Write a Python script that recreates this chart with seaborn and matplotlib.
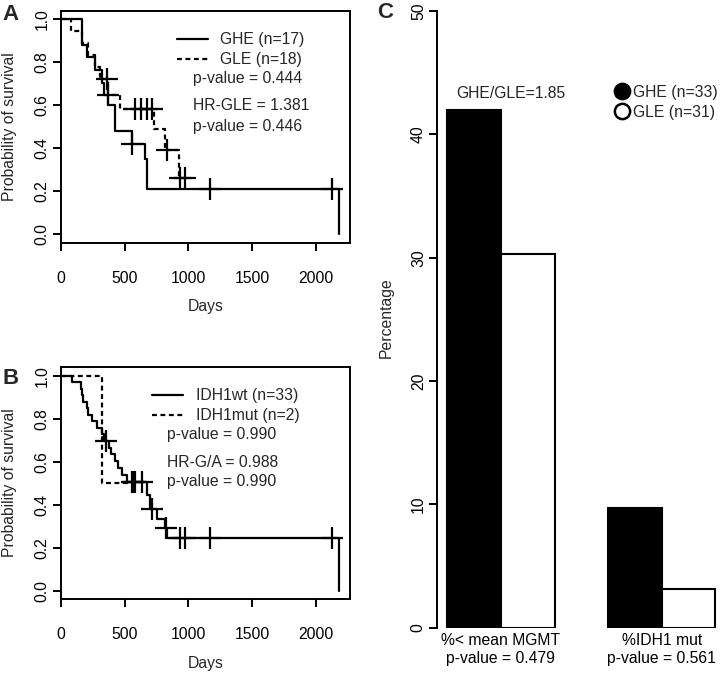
import matplotlib
matplotlib.use("Agg")
import matplotlib.pyplot as plt
from matplotlib.lines import Line2D
import pandas as pd
import seaborn as sns

# ---------------- data ----------------
# Panel A : Kaplan-Meier GHE vs GLE
ghe_days = [0, 162, 206, 267, 319, 340, 366, 423, 554, 659, 672, 2180]
ghe_surv = [1.0, 0.882, 0.824, 0.765, 0.706, 0.647, 0.600, 0.480, 0.420, 0.348, 0.210, 0.0]
ghe_cens_days = [365, 554, 1168, 2123]
ghe_cens_surv = [0.647, 0.420, 0.210, 0.210]
gle_days = [0, 78, 165, 210, 270, 305, 372, 460, 728, 815, 925, 973]
gle_surv = [1.0, 0.944, 0.889, 0.833, 0.778, 0.722, 0.650, 0.585, 0.490, 0.390, 0.260, 0.260]
gle_cens_days = [360, 584, 627, 678, 717, 829, 933, 973]
gle_cens_surv = [0.722, 0.585, 0.585, 0.585, 0.585, 0.390, 0.260, 0.260]
legend_a = ["GHE (n=17)", "GLE (n=18)"]
notes_a = ["p-value = 0.444", "HR-GLE = 1.381", "p-value = 0.446"]

# Panel B : Kaplan-Meier IDH1wt vs IDH1mut
wt_days = [0, 84, 160, 165, 170, 206, 215, 241, 280, 319, 335, 380, 395, 420, 450,
           480, 520, 672, 695, 750, 815, 829, 2180]
wt_surv = [1.0, 0.970, 0.939, 0.909, 0.879, 0.848, 0.818, 0.788, 0.758, 0.727, 0.697,
           0.665, 0.634, 0.602, 0.570, 0.539, 0.507, 0.443, 0.381, 0.335, 0.293, 0.246, 0.0]
wt_cens_days = [353, 554, 567, 580, 633, 711, 821, 933, 973, 1168, 2123]
wt_cens_surv = [0.697, 0.507, 0.507, 0.507, 0.507, 0.381, 0.293, 0.246, 0.246, 0.246, 0.246]
mut_days = [0, 325, 560]
mut_surv = [1.0, 0.5, 0.5]
legend_b = ["IDH1wt (n=33)", "IDH1mut (n=2)"]
notes_b = ["p-value = 0.990", "HR-G/A = 0.988", "p-value = 0.990"]

# Panel C : bar chart
measures = ["%< mean MGMT\np-value = 0.479", "%IDH1 mut\np-value = 0.561"]
ghe_pct = [42.0, 9.7]
gle_pct = [30.3, 3.1]
groups = ["GHE (n=33)", "GLE (n=31)"]
ratio_label = "GHE/GLE=1.85"

x_ticks = [0, 500, 1000, 1500, 2000]
y_ticks = [0.0, 0.2, 0.4, 0.6, 0.8, 1.0]
c_ticks = [0, 10, 20, 30, 40, 50]

# ---------------- style ----------------
sns.set_theme(style="ticks")
FS = 11.3
plt.rcParams["font.family"] = ["Liberation Sans", "DejaVu Sans"]
plt.rcParams["font.size"] = FS
plt.rcParams["axes.linewidth"] = 1.4
plt.rcParams["axes.edgecolor"] = "black"

W, H = 725, 675
fig = plt.figure(figsize=(W / 100, H / 100), dpi=100)
fig.patch.set_facecolor("white")


def fx(px):
    return px / W


def fy(py):
    return 1 - py / H


def rect(left, top, right, bottom):
    return [fx(left), fy(bottom), (right - left) / W, (bottom - top) / H]


LW = 1.6
DASH = (0, (2.2, 1.6))


def km_panel(ax, d1, s1, c1d, c1s, d2, s2, c2d, c2s):
    sns.lineplot(x=d1, y=s1, ax=ax, drawstyle="steps-post", estimator=None, sort=False,
                 color="black", linewidth=LW)
    sns.lineplot(x=d2, y=s2, ax=ax, drawstyle="steps-post", estimator=None, sort=False,
                 color="black", linewidth=LW, linestyle=DASH)
    for cd, cs in ((c1d, c1s), (c2d, c2s)):
        if cd:
            ax.scatter(cd, cs, marker="+", s=250, color="black", linewidths=1.6, zorder=3)
    ax.set_xlim(0, 2267)
    ax.set_ylim(-0.04, 1.04)
    ax.set_xticks(x_ticks)
    ax.set_xticklabels([str(t) for t in x_ticks])
    ax.set_yticks(y_ticks)
    ax.set_yticklabels([f"{t:.1f}" for t in y_ticks], rotation=90, va="center")
    ax.tick_params(axis="x", direction="out", length=5.8, width=1.4, pad=14.5,
                   labelsize=FS, colors="black")
    ax.tick_params(axis="y", direction="out", length=5.8, width=1.4, pad=2.5,
                   labelsize=FS, colors="black")
    ax.set_xlabel("")
    ax.set_ylabel("")
    for sp in ax.spines.values():
        sp.set_visible(True)
        sp.set_linewidth(1.4)
    handles = [Line2D([], [], color="black", lw=LW),
               Line2D([], [], color="black", lw=LW, linestyle=DASH)]
    return handles


# Panel A
axa = fig.add_axes(rect(61, 10.7, 350, 242.9))
ha_ = km_panel(axa, ghe_days, ghe_surv, ghe_cens_days, ghe_cens_surv,
               gle_days, gle_surv, gle_cens_days, gle_cens_surv)
axa.legend(ha_, legend_a, loc="center left", bbox_to_anchor=(fx(177), fy(49.7)),
           bbox_transform=fig.transFigure, frameon=False, borderpad=0, borderaxespad=0,
           handlelength=2.0, handletextpad=0.76, labelspacing=0.31, fontsize=FS)
for txt, py in zip(notes_a, [79, 106, 126]):
    fig.text(fx(192.7), fy(py), txt, ha="left", va="center", fontsize=FS)
fig.text(fx(10), fy(126.8), "Probability of survival", rotation=90, ha="center",
         va="center", fontsize=FS)
fig.text(fx(205.5), fy(307), "Days", ha="center", va="center", fontsize=FS)
fig.text(fx(2), fy(19.5), "A", fontsize=16, fontweight="bold", ha="left", va="baseline")

# Panel B
axb = fig.add_axes(rect(61, 367.1, 350, 599.3))
hb_ = km_panel(axb, wt_days, wt_surv, wt_cens_days, wt_cens_surv,
               mut_days, mut_surv, [], [])
axb.legend(hb_, legend_b, loc="center left", bbox_to_anchor=(fx(152), fy(405.8)),
           bbox_transform=fig.transFigure, frameon=False, borderpad=0, borderaxespad=0,
           handlelength=2.0, handletextpad=0.8, labelspacing=0.31, fontsize=FS)
for txt, py in zip(notes_b, [435, 462.7, 481.7]):
    fig.text(fx(166.7), fy(py), txt, ha="left", va="center", fontsize=FS)
fig.text(fx(10), fy(483), "Probability of survival", rotation=90, ha="center",
         va="center", fontsize=FS)
fig.text(fx(205.5), fy(663.3), "Days", ha="center", va="center", fontsize=FS)
fig.text(fx(2), fy(384), "B", fontsize=16, fontweight="bold", ha="left", va="baseline")

# Panel C
axc = fig.add_axes(rect(436.7, 11, 725, 627.7))
dfc = pd.DataFrame({
    "measure": measures * 2,
    "pct": ghe_pct + gle_pct,
    "group": [groups[0]] * len(measures) + [groups[1]] * len(measures),
})
sns.barplot(data=dfc, x="measure", y="pct", hue="group", order=measures,
            hue_order=groups, palette=["black", "white"], saturation=1,
            edgecolor="black", linewidth=1.5, width=2 / 3, gap=0, errorbar=None,
            legend=False, ax=axc)
axc.set_xlim(-0.4, -0.4 + (725 - 436.7) / 160.7)
axc.set_ylim(0, 50)
axc.set_yticks(c_ticks)
axc.set_yticklabels([str(t) for t in c_ticks], rotation=90, va="center")
axc.tick_params(axis="y", direction="out", length=5.8, width=1.4, pad=2,
                labelsize=FS, colors="black")
axc.tick_params(axis="x", length=0, pad=4, labelsize=FS, colors="black")
for lab in axc.get_xticklabels():
    lab.set_linespacing(1.25)
axc.set_xlabel("")
axc.set_ylabel("")
for s in ("top", "right", "bottom"):
    axc.spines[s].set_visible(False)
axc.spines["left"].set_bounds(0, 50)
axc.spines["left"].set_linewidth(1.4)
axc.set_facecolor("none")
axc.text(0.059, 43.33, ratio_label, ha="center", va="center", fontsize=FS)
hc = [Line2D([], [], marker="o", ls="", markersize=11, markerfacecolor="black",
             markeredgecolor="black", markeredgewidth=1.8),
      Line2D([], [], marker="o", ls="", markersize=11, markerfacecolor="white",
             markeredgecolor="black", markeredgewidth=1.8)]
axc.legend(hc, groups, loc="center left", bbox_to_anchor=(fx(616), fy(102.2)),
           bbox_transform=fig.transFigure, frameon=False, borderpad=0, borderaxespad=0,
           handlelength=0.8, handletextpad=0.3, labelspacing=0.3, fontsize=FS)
fig.text(fx(386.7), fy(318), "Percentage", rotation=90, ha="center", va="center",
         fontsize=FS)
fig.text(fx(377), fy(18.5), "C", fontsize=16, fontweight="bold", ha="left", va="baseline")

fig.savefig("out.png", dpi=100, facecolor="white")
